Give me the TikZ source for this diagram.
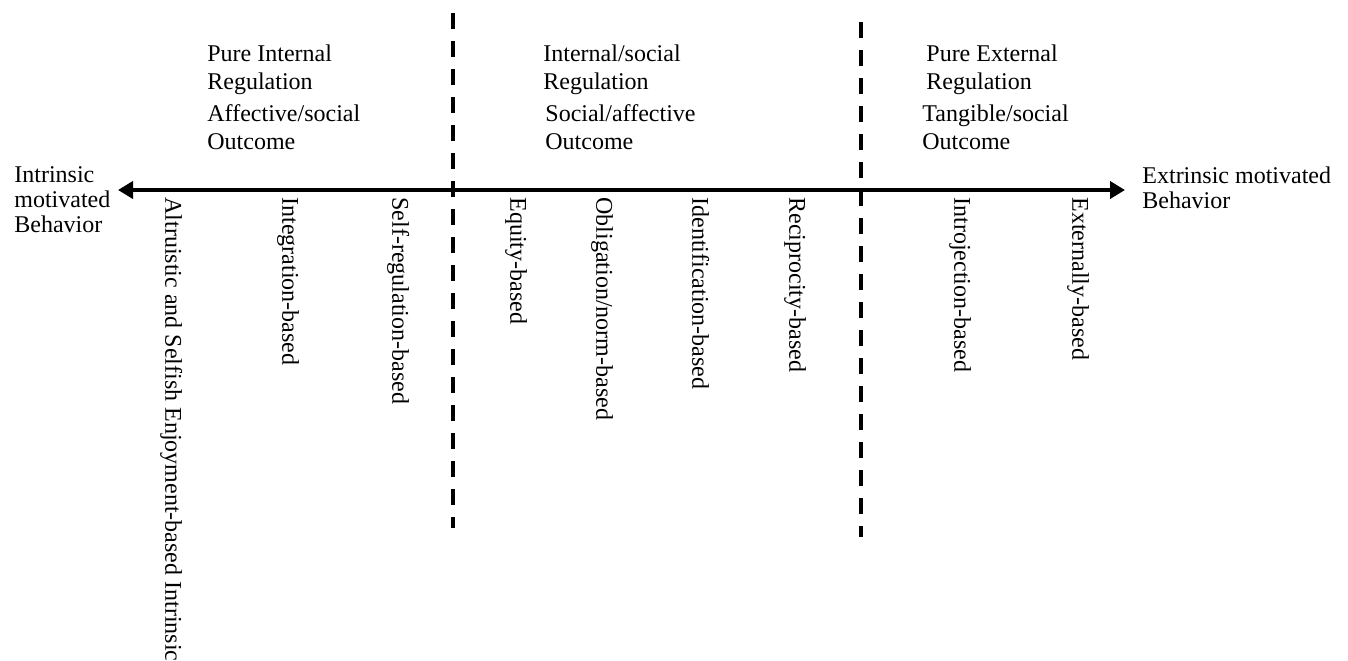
\documentclass[tikz,border=0pt]{standalone}
\usepackage{fontspec}
\setmainfont{Liberation Serif}
\usepackage{tikz}
\usetikzlibrary{positioning}
\usetikzlibrary{arrows.meta}

\begin{document}
\begin{tikzpicture}[x=0.5pt,y=-0.5pt]
	\useasboundingbox (0,0) rectangle (1348,660);

	% axis and the two borders
	\coordinate (L) at (118,190);
	\coordinate (R) at (1125,190);
	\coordinate (D1top) at (453,13);
	\coordinate (D1bot) at (453,528);
	\coordinate (D2top) at (861,22);
	\coordinate (D2bot) at (861,537);

	\begin{scope}[line width=2pt]
	    \draw [{Triangle[length=7.5pt,width=8.5pt]}-{Triangle[length=7.5pt,width=8.5pt]}] (L) -- (R);
	    \draw [dash pattern=on 8pt off 6pt] (D1top) -- (D1bot);
	    \draw [dash pattern=on 8pt off 6pt] (D2top) -- (D2bot);
	\end{scope}

	% ends of the axis (base = last line)
	\begin{scope}[every node/.style={inner sep=0, align=left, font=\fontsize{12}{12.4}\selectfont, anchor=base west}]
	    \node (intr) at (14,232) {Intrinsic\\motivated\\Behavior};
	    \node (extr) at (1142,208) {Extrinsic motivated\\Behavior};
	\end{scope}

	% headings of the three zones
	\begin{scope}[every node/.style={inner sep=0, align=left, font=\fontsize{12}{14}\selectfont, anchor=base west}]
	    \node (pir) at (207,89) {Pure Internal\\Regulation};
	    \node (aso) at (207,149) {Affective/social\\Outcome};
	    \node (isr) at (543,89) {Internal/social\\Regulation};
	    \node (sao) at (545,149) {Social/affective\\Outcome};
	    \node (per) at (926,89) {Pure External\\Regulation};
	    \node (tso) at (922,149) {Tangible/social\\Outcome};
	\end{scope}

	% motivation types below the axis
	\begin{scope}[every node/.style={inner sep=0, rotate=-90, anchor=west, font=\fontsize{12}{14}\selectfont, text height=0.68em, text depth=0.22em}]
	    \node (altr) at (170,197) {Altruistic and Selfish Enjoyment-based Intrinsic};
	    \node (integ) at (287,197) {Integration-based};
	    \node (selfreg) at (397,197) {Self-regulation-based};
	    \node (equity) at (515,197) {Equity-based};
	    \node (oblig) at (601,197) {Obligation/norm-based};
	    \node (ident) at (697,197) {Identification-based};
	    \node (recip) at (794,197) {Reciprocity-based};
	    \node (introj) at (959,197) {Introjection-based};
	    \node (extern) at (1077,197) {Externally-based};
	\end{scope}
\end{tikzpicture}
\end{document}
